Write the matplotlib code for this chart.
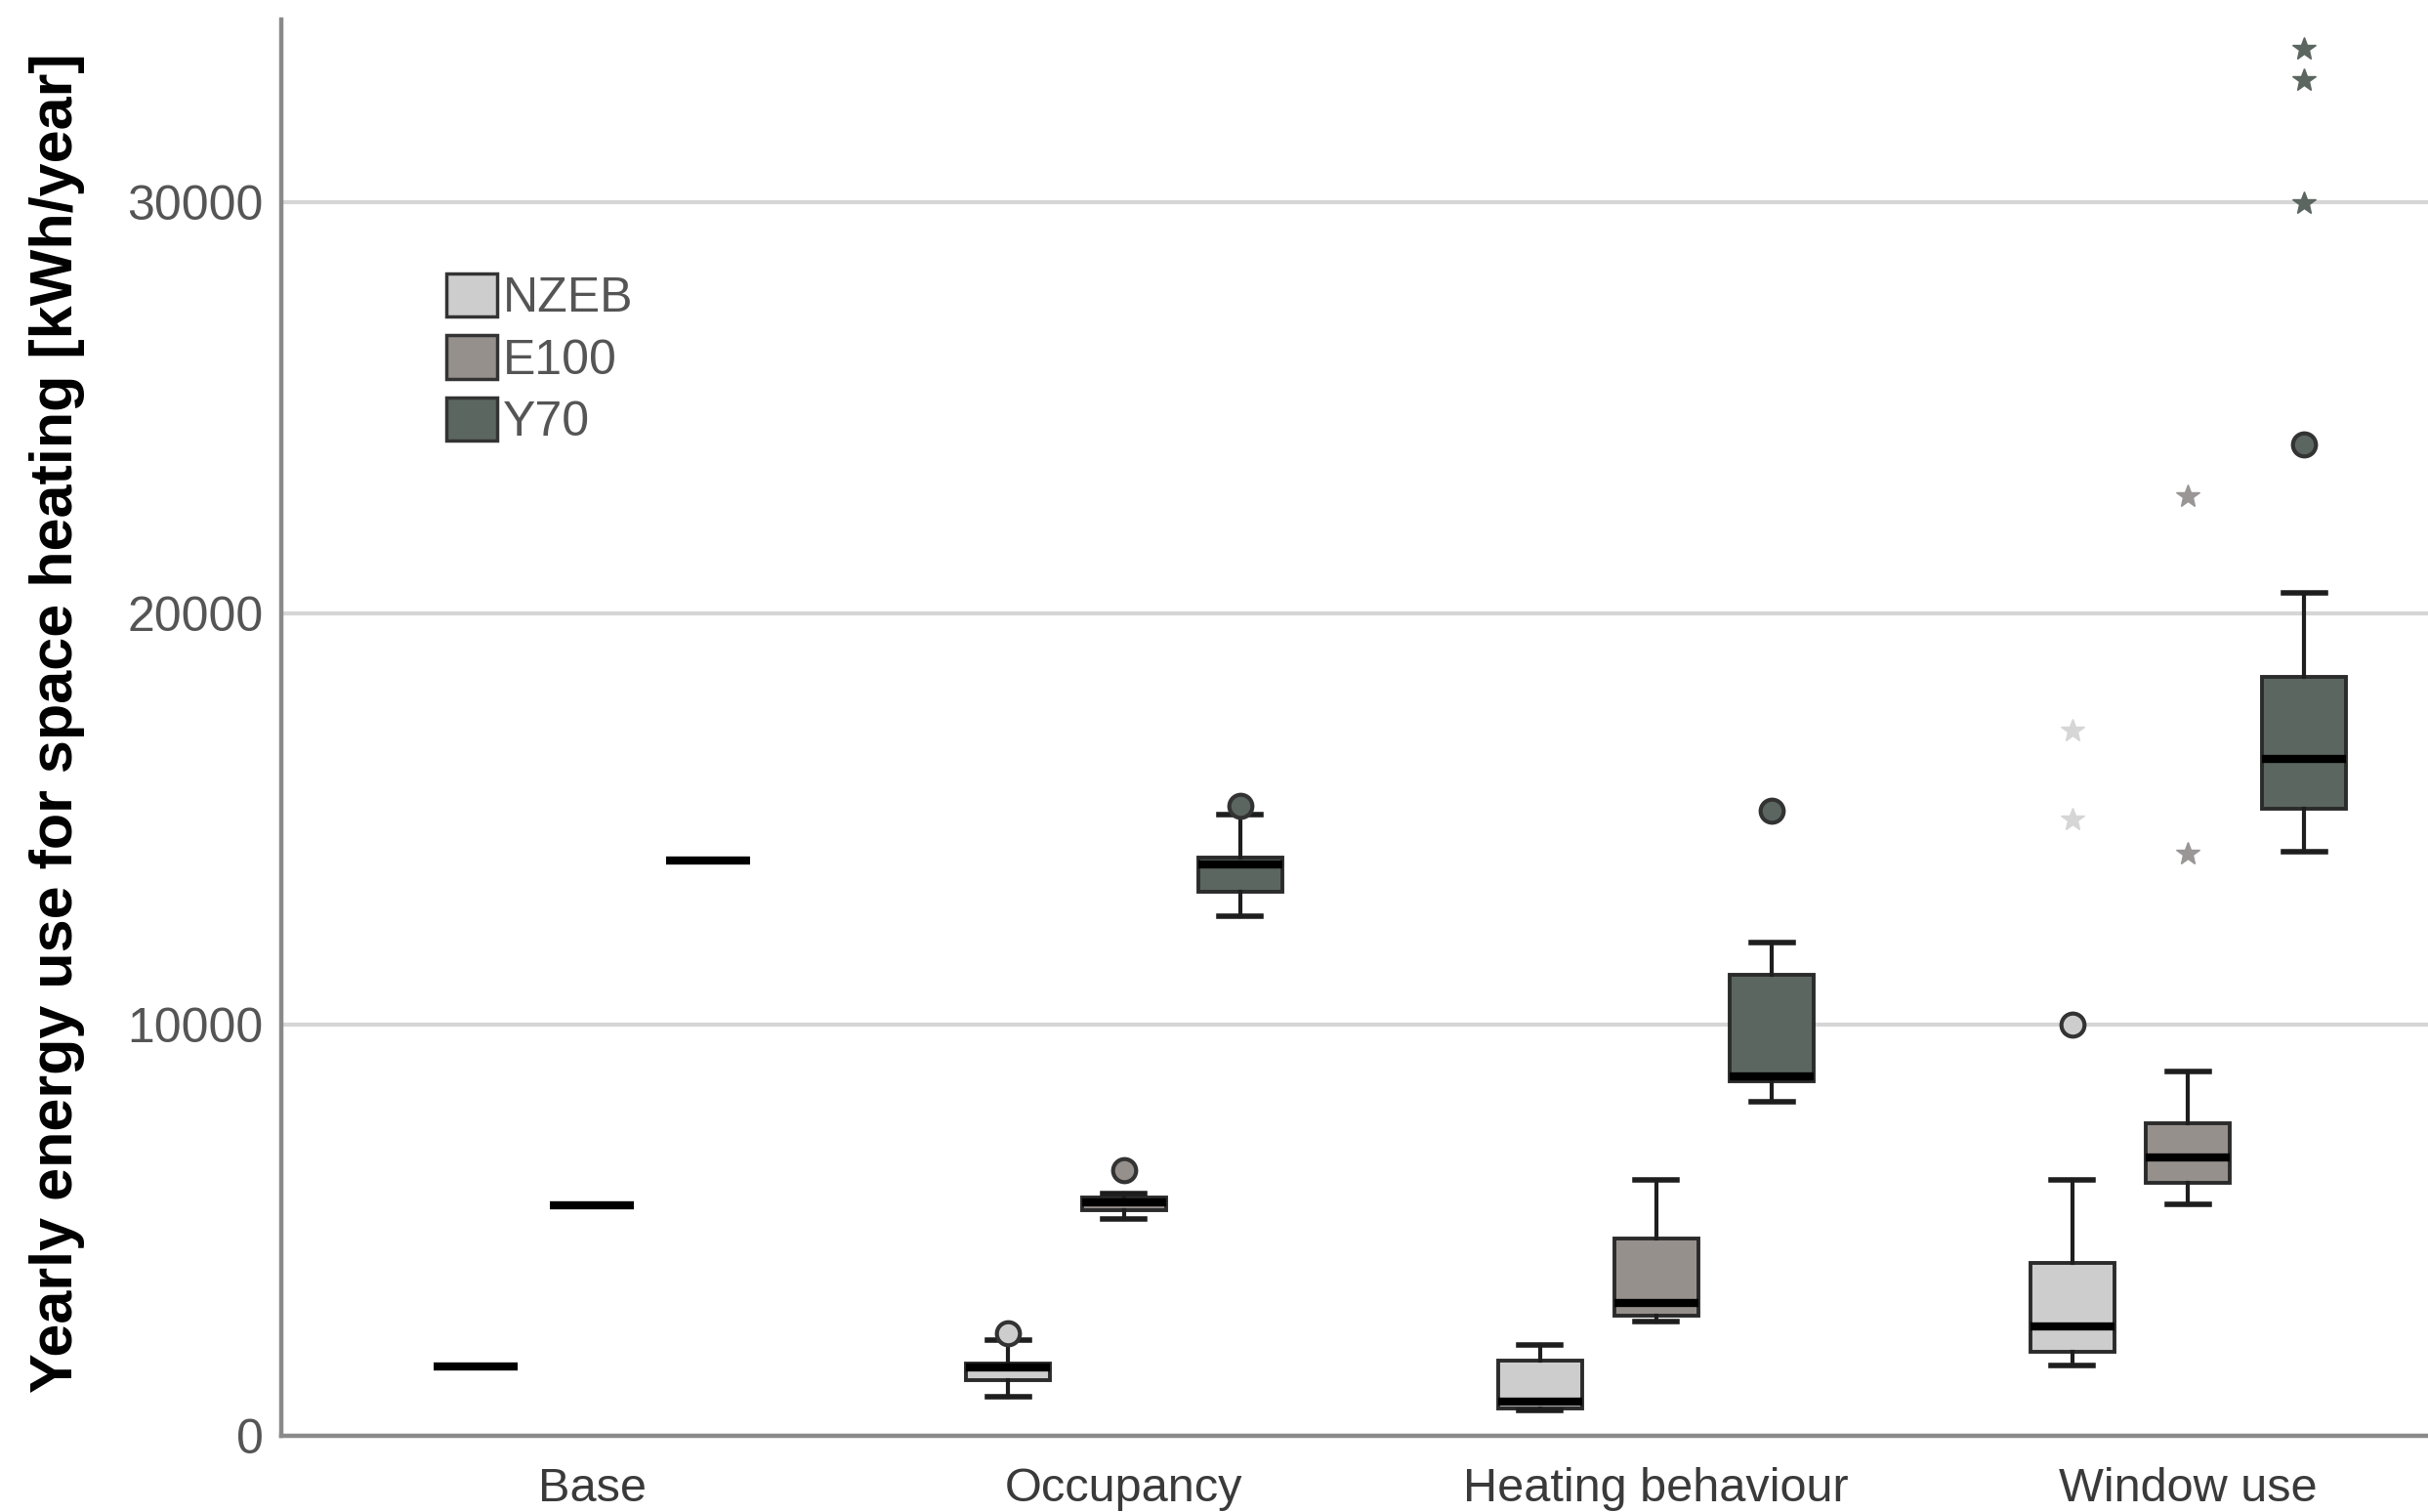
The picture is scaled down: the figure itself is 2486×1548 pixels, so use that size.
import matplotlib
matplotlib.use("Agg")
import matplotlib.pyplot as plt
from matplotlib.patches import Patch
import numpy as np

plt.rcParams['font.family'] = ['Liberation Sans', 'DejaVu Sans']

# Yearly space heating demand per scenario and building type (kWh/year)
categories = ['Base', 'Occupancy', 'Heating behaviour', 'Window use']
groups = ['NZEB', 'E100', 'Y70']
colors = ['#cdcdcd', '#96908d', '#5b6660']
star_colors = ['#d6d6d6', '#9a9696', '#5b6660']

nzeb_whislo = [1690, 950, 620, 1710]
nzeb_q1 = [1690, 1350, 665, 2040]
nzeb_med = [1690, 1660, 830, 2660]
nzeb_q3 = [1690, 1760, 1830, 4200]
nzeb_whishi = [1690, 2330, 2210, 6220]
nzeb_outliers = [[], [2490], [], [10000]]
nzeb_extremes = [[], [], [], [14990, 17150]]

e100_whislo = [5610, 5270, 2780, 5630]
e100_q1 = [5610, 5480, 2920, 6150]
e100_med = [5610, 5680, 3230, 6770]
e100_q3 = [5610, 5790, 4800, 7600]
e100_whishi = [5610, 5890, 6220, 8860]
e100_outliers = [[], [6460], [], []]
e100_extremes = [[], [], [], [14160, 22850]]

y70_whislo = [14000, 12640, 8120, 14200]
y70_q1 = [14000, 13230, 8620, 15250]
y70_med = [14000, 13890, 8740, 16460]
y70_q3 = [14000, 14060, 11210, 18450]
y70_whishi = [14000, 15100, 11990, 20500]
y70_outliers = [[], [15320], [15200], [24110]]
y70_extremes = [[], [], [], [29970, 32970, 33730]]

series = [
    (nzeb_whislo, nzeb_q1, nzeb_med, nzeb_q3, nzeb_whishi, nzeb_outliers, nzeb_extremes),
    (e100_whislo, e100_q1, e100_med, e100_q3, e100_whishi, e100_outliers, e100_extremes),
    (y70_whislo, y70_q1, y70_med, y70_q3, y70_whishi, y70_outliers, y70_extremes),
]

fig = plt.figure(figsize=(24.86, 15.48), dpi=100)
ax = fig.add_axes([0.1158, 0.0504, 1 - 0.1158, 0.987 - 0.0504])

x = np.arange(len(categories))
offset = 0.218
width = 0.158
edge = '#2b2b2b'

for i, (lo, q1, med, q3, hi, outl, extr) in enumerate(series):
    stats = []
    for j in range(len(categories)):
        stats.append(dict(whislo=lo[j], q1=q1[j], med=med[j], q3=q3[j],
                          whishi=hi[j], fliers=outl[j]))
    pos = x + (i - 1) * offset
    ax.bxp(stats, positions=pos, widths=width, patch_artist=True,
           showfliers=True, manage_ticks=False,
           boxprops=dict(facecolor=colors[i], edgecolor=edge, linewidth=2.8),
           medianprops=dict(color='black', linewidth=6, solid_capstyle='butt'),
           whiskerprops=dict(color='#1e1e1e', linewidth=3),
           capprops=dict(color='#1e1e1e', linewidth=4),
           capwidths=width * 0.5,
           flierprops=dict(marker='o', markersize=17, markerfacecolor=colors[i],
                           markeredgecolor='#333333', markeredgewidth=3))
    # extreme values drawn as stars
    for j in range(len(categories)):
        if extr[j]:
            ax.plot([pos[j]] * len(extr[j]), extr[j], linestyle='none', marker='*',
                    markersize=18, color=star_colors[i], markeredgecolor=star_colors[i],
                    zorder=4)

ax.set_xlim(-0.584, 3.451)
ax.set_ylim(0, 34440)
ax.set_yticks([0, 10000, 20000, 30000])
ax.set_xticks(x)
ax.set_xticklabels(categories)
ax.yaxis.grid(True, color='#d6d6d6', linewidth=3)
ax.set_axisbelow(True)
ax.tick_params(axis='y', length=0, pad=13, labelsize=36, labelcolor='#555555')
ax.tick_params(axis='x', length=0, pad=23, labelsize=35, labelcolor='#3a3a3a')

for s in ['top', 'right']:
    ax.spines[s].set_visible(False)
for s in ['left', 'bottom']:
    ax.spines[s].set_color('#8a8a8a')
    ax.spines[s].set_linewidth(3.2)

fig.text(59 / 2486, 1 - 740 / 1548, 'Yearly energy use for space heating [kWh/year]',
         rotation=90, ha='center', va='center', fontsize=44, fontweight='bold',
         color='black')

handles = [Patch(facecolor=c, edgecolor='#333333', linewidth=2.5) for c in colors]
ax.legend(handles, groups, loc='upper left', bbox_to_anchor=(0.077, 0.821),
          frameon=False, fontsize=36, handlelength=1.04, handleheight=1.0,
          handletextpad=0.12, labelspacing=0.28, borderpad=0, borderaxespad=0,
          labelcolor='#555555')

fig.savefig('out.png', dpi=100)
